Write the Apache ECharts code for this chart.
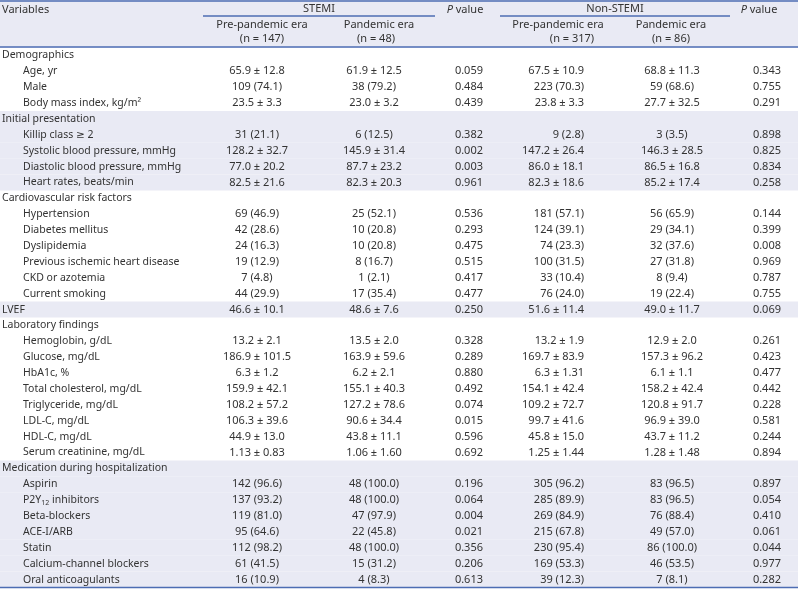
<!DOCTYPE html>
<html>
<head>
<meta charset="utf-8">
<script src="https://cdn.jsdelivr.net/npm/echarts@6/dist/echarts.min.js"></script>
<style>
  html, body { margin: 0; padding: 0; background: #ffffff; }
  #chart { width: 798px; height: 593px; }
</style>
</head>
<body>
<div id="chart"></div>
<script>
// ---------------- data ----------------
const variables = [
  'Demographics', 'Age, yr', 'Male', 'Body mass index, kg/m²',
  'Initial presentation', 'Killip class ≥ 2', 'Systolic blood pressure, mmHg', 'Diastolic blood pressure, mmHg', 'Heart rates, beats/min',
  'Cardiovascular risk factors', 'Hypertension', 'Diabetes mellitus', 'Dyslipidemia', 'Previous ischemic heart disease', 'CKD or azotemia', 'Current smoking',
  'LVEF',
  'Laboratory findings', 'Hemoglobin, g/dL', 'Glucose, mg/dL', 'HbA1c, %', 'Total cholesterol, mg/dL', 'Triglyceride, mg/dL', 'LDL-C, mg/dL', 'HDL-C, mg/dL', 'Serum creatinine, mg/dL',
  'Medication during hospitalization', 'Aspirin', 'P2Y{sub|12} inhibitors', 'Beta-blockers', 'ACE-I/ARB', 'Statin', 'Calcium-channel blockers', 'Oral anticoagulants'
];
const level = [0,1,1,1, 0,1,1,1,1, 0,1,1,1,1,1,1, 0, 0,1,1,1,1,1,1,1,1, 0,1,1,1,1,1,1,1];

const stemiPre = ['', '65.9 ± 12.8', '109 (74.1)', '23.5 ± 3.3',
  '', '31 (21.1)', '128.2 ± 32.7', '77.0 ± 20.2', '82.5 ± 21.6',
  '', '69 (46.9)', '42 (28.6)', '24 (16.3)', '19 (12.9)', '7 (4.8)', '44 (29.9)',
  '46.6 ± 10.1',
  '', '13.2 ± 2.1', '186.9 ± 101.5', '6.3 ± 1.2', '159.9 ± 42.1', '108.2 ± 57.2', '106.3 ± 39.6', '44.9 ± 13.0', '1.13 ± 0.83',
  '', '142 (96.6)', '137 (93.2)', '119 (81.0)', '95 (64.6)', '112 (98.2)', '61 (41.5)', '16 (10.9)'];
const stemiPan = ['', '61.9 ± 12.5', '38 (79.2)', '23.0 ± 3.2',
  '', '6 (12.5)', '145.9 ± 31.4', '87.7 ± 23.2', '82.3 ± 20.3',
  '', '25 (52.1)', '10 (20.8)', '10 (20.8)', '8 (16.7)', '1 (2.1)', '17 (35.4)',
  '48.6 ± 7.6',
  '', '13.5 ± 2.0', '163.9 ± 59.6', '6.2 ± 2.1', '155.1 ± 40.3', '127.2 ± 78.6', '90.6 ± 34.4', '43.8 ± 11.1', '1.06 ± 1.60',
  '', '48 (100.0)', '48 (100.0)', '47 (97.9)', '22 (45.8)', '48 (100.0)', '15 (31.2)', '4 (8.3)'];
const stemiP = ['', '0.059', '0.484', '0.439',
  '', '0.382', '0.002', '0.003', '0.961',
  '', '0.536', '0.293', '0.475', '0.515', '0.417', '0.477',
  '0.250',
  '', '0.328', '0.289', '0.880', '0.492', '0.074', '0.015', '0.596', '0.692',
  '', '0.196', '0.064', '0.004', '0.021', '0.356', '0.206', '0.613'];
const nstemiPre = ['', '67.5 ± 10.9', '223 (70.3)', '23.8 ± 3.3',
  '', '9 (2.8)', '147.2 ± 26.4', '86.0 ± 18.1', '82.3 ± 18.6',
  '', '181 (57.1)', '124 (39.1)', '74 (23.3)', '100 (31.5)', '33 (10.4)', '76 (24.0)',
  '51.6 ± 11.4',
  '', '13.2 ± 1.9', '169.7 ± 83.9', '6.3 ± 1.31', '154.1 ± 42.4', '109.2 ± 72.7', '99.7 ± 41.6', '45.8 ± 15.0', '1.25 ± 1.44',
  '', '305 (96.2)', '285 (89.9)', '269 (84.9)', '215 (67.8)', '230 (95.4)', '169 (53.3)', '39 (12.3)'];
const nstemiPan = ['', '68.8 ± 11.3', '59 (68.6)', '27.7 ± 32.5',
  '', '3 (3.5)', '146.3 ± 28.5', '86.5 ± 16.8', '85.2 ± 17.4',
  '', '56 (65.9)', '29 (34.1)', '32 (37.6)', '27 (31.8)', '8 (9.4)', '19 (22.4)',
  '49.0 ± 11.7',
  '', '12.9 ± 2.0', '157.3 ± 96.2', '6.1 ± 1.1', '158.2 ± 42.4', '120.8 ± 91.7', '96.9 ± 39.0', '43.7 ± 11.2', '1.28 ± 1.48',
  '', '83 (96.5)', '83 (96.5)', '76 (88.4)', '49 (57.0)', '86 (100.0)', '46 (53.5)', '7 (8.1)'];
const nstemiP = ['', '0.343', '0.755', '0.291',
  '', '0.898', '0.825', '0.834', '0.258',
  '', '0.144', '0.399', '0.008', '0.969', '0.787', '0.755',
  '0.069',
  '', '0.261', '0.423', '0.477', '0.442', '0.228', '0.581', '0.244', '0.894',
  '', '0.897', '0.054', '0.410', '0.061', '0.044', '0.977', '0.282'];

const headerTop = ['Variables', 'STEMI', '{i|P} value', 'Non-STEMI', '{i|P} value'];
const headerSub = ['Pre-pandemic era', 'Pandemic era', 'Pre-pandemic era', 'Pandemic era'];
const headerN = ['(n = 147)', '(n = 48)', '(n = 317)', '(n = 86)'];

// ---------------- layout / style ----------------
const W = 798, H = 593;
const FONT = '"Noto Sans", "DejaVu Sans", sans-serif';
const FS = 11;
const FS_LABEL = 10.5;
const TXT = '#333333';
const BLUE = '#4d6db3';
const SHADE = '#e9eaf4';
const TABLE_TOP = 47.5, TABLE_BOTTOM = 587.5;

const cols = [
  { values: stemiPre,  x: 257, align: 'center' },
  { values: stemiPan,  x: 374, align: 'center' },
  { values: stemiP,    x: 483, align: 'right' },
  { values: nstemiPre, x: 584, align: 'right' },
  { values: nstemiPan, x: 672, align: 'center' },
  { values: nstemiP,   x: 781, align: 'right' }
];

// section shading: alternate at each top-level row
const shaded = [];
let sec = -1;
level.forEach((l, i) => { if (l === 0) sec++; shaded[i] = sec % 2 === 1; });

function makeRich(fs) {
  return {
    sub: { fontSize: 7, fontFamily: FONT, color: TXT, padding: [5, 0, 0, 0] },
    i: { fontStyle: 'italic', fontSize: fs, fontFamily: FONT, color: TXT }
  };
}

function textEl(x, y, text, align, fs) {
  return {
    type: 'text',
    x: x, y: y,
    style: {
      text: text,
      fill: TXT,
      fontSize: fs,
      fontFamily: FONT,
      align: align,
      verticalAlign: 'middle',
      rich: makeRich(fs)
    }
  };
}

const rowIdx = variables.map((_, i) => i);

const series = [];
// shading bands
series.push({
  type: 'custom',
  z: 1,
  silent: true,
  data: rowIdx.map(i => [0, i]),
  encode: { x: 0, y: 1 },
  renderItem: function (params, api) {
    const i = api.value(1);
    if (!shaded[i]) return null;
    const c = api.coord([0, i]);
    const h = api.size([0, 1])[1];
    return { type: 'rect', shape: { x: 0, y: c[1] - h / 2, width: W, height: h }, style: { fill: SHADE } };
  }
});
// variable labels
series.push({
  type: 'custom',
  z: 3,
  silent: true,
  data: rowIdx.map(i => [level[i] ? 23 : 2, i]),
  encode: { x: 0, y: 1 },
  renderItem: function (params, api) {
    const c = api.coord([api.value(0), api.value(1)]);
    return textEl(c[0], c[1], variables[params.dataIndex], 'left', FS_LABEL);
  }
});
// value columns
cols.forEach(col => {
  series.push({
    type: 'custom',
    z: 3,
    silent: true,
    data: rowIdx.map(i => [col.x, i]),
    encode: { x: 0, y: 1 },
    renderItem: function (params, api) {
      const t = col.values[params.dataIndex];
      if (!t) return null;
      const c = api.coord([api.value(0), api.value(1)]);
      return textEl(c[0], c[1], t, col.align, FS);
    }
  });
});

// header graphics
function gText(x, y, text, align) {
  return {
    type: 'text', x: x, y: y, z: 10,
    style: { text: text, fill: TXT, fontSize: FS, fontFamily: FONT, align: align, verticalAlign: 'middle', rich: makeRich(FS) }
  };
}
function gLine(x1, y1, x2, y2, w) {
  return { type: 'line', z: 11, shape: { x1: x1, y1: y1, x2: x2, y2: y2 }, style: { stroke: BLUE, lineWidth: w } };
}

const graphics = [
  { type: 'rect', z: 0, shape: { x: 0, y: 0, width: W, height: TABLE_TOP }, style: { fill: SHADE } },
  gLine(0, 1, W, 1, 1.5),
  gLine(0, TABLE_TOP - 0.5, W, TABLE_TOP - 0.5, 1.3),
  gLine(0, TABLE_BOTTOM, W, TABLE_BOTTOM, 1.5),
  gLine(203, 16, 435, 16, 1.3),
  gLine(500, 16, 730, 16, 1.3),
  gText(2, 10, headerTop[0], 'left'),
  gText(319, 9, headerTop[1], 'center'),
  gText(465, 10, headerTop[2], 'center'),
  gText(615, 9, headerTop[3], 'center'),
  gText(759, 10, headerTop[4], 'center'),
  gText(262, 25, headerSub[0], 'center'),
  gText(379, 25, headerSub[1], 'center'),
  gText(558, 25, headerSub[2], 'center'),
  gText(671, 25, headerSub[3], 'center'),
  gText(262, 39, headerN[0], 'center'),
  gText(376, 39, headerN[1], 'center'),
  gText(572, 39, headerN[2], 'center'),
  gText(671, 39, headerN[3], 'center')
];

const chart = echarts.init(document.getElementById('chart'), null, { renderer: 'canvas', width: W, height: H });
chart.setOption({
  animation: false,
  backgroundColor: '#ffffff',
  grid: { left: 0, right: 0, top: TABLE_TOP, bottom: H - TABLE_BOTTOM, containLabel: false },
  xAxis: { type: 'value', min: 0, max: W, show: false },
  yAxis: { type: 'category', data: variables, inverse: true, show: false, boundaryGap: true },
  graphic: graphics,
  series: series
});
</script>
</body>
</html>
